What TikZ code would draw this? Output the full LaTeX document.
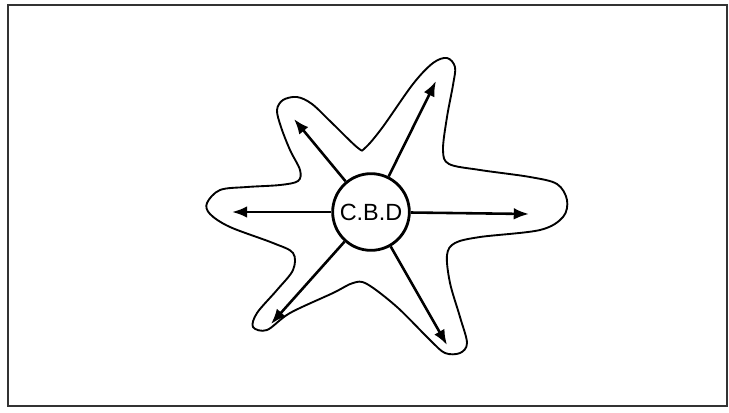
\documentclass[tikz,border=0pt]{standalone}
\usepackage{fontspec}
\setmainfont{Liberation Sans}
\usetikzlibrary{arrows.meta,positioning}

\begin{document}
\begin{tikzpicture}[x={(0.03cm,0)},y={(0,-0.03cm)},
    ray/.style={line width=2.2pt,-{Latex[length=13pt,width=10pt]}},
    hub/.style={circle,draw,line width=2.4pt,minimum size=2.3cm,inner sep=0pt,font=\fontsize{20}{22}\selectfont}]
        \useasboundingbox (0,0) rectangle (729,412);
        \draw[line width=2.2pt,black!80] (8,5) rectangle (727,406);
        % star shaped outline of the town
        \draw[line width=1.6pt] plot[smooth cycle,tension=0.55] coordinates {
            (207,203) (220,190) (247,187) (280,185) (298,181) (300,170)
            (290,150) (281,127) (277,110) (283,100) (297,97) (312,104)
            (332,123) (358,148) (365,148) (382,128) (413,84) (433,63)
            (447,58) (455,67) (453,85) (447,117) (443,150) (449,164)
            (480,170) (530,177) (557,184) (567,200) (563,217) (540,230)
            (480,237) (455,243) (447,255) (450,283) (460,317) (467,343)
            (460,353) (445,353) (430,340) (397,307) (367,284) (353,283)
            (333,293) (290,313) (267,330) (253,327) (257,313) (277,290)
            (293,270) (293,253) (273,243) (230,227) (210,214)};
        \node[hub] (cbd) at (371,212) {C.B.D};
        \coordinate (w) at (232,212);
        \coordinate (e) at (529,214);
        \coordinate (nw) at (294,119);
        \coordinate (ne) at (436,81);
        \coordinate (sw) at (271,324);
        \coordinate (se) at (447,345);
        \foreach \t in {w,e,nw,ne,sw,se}
            \draw[ray] (cbd) -- (\t);
\end{tikzpicture}
\end{document}
